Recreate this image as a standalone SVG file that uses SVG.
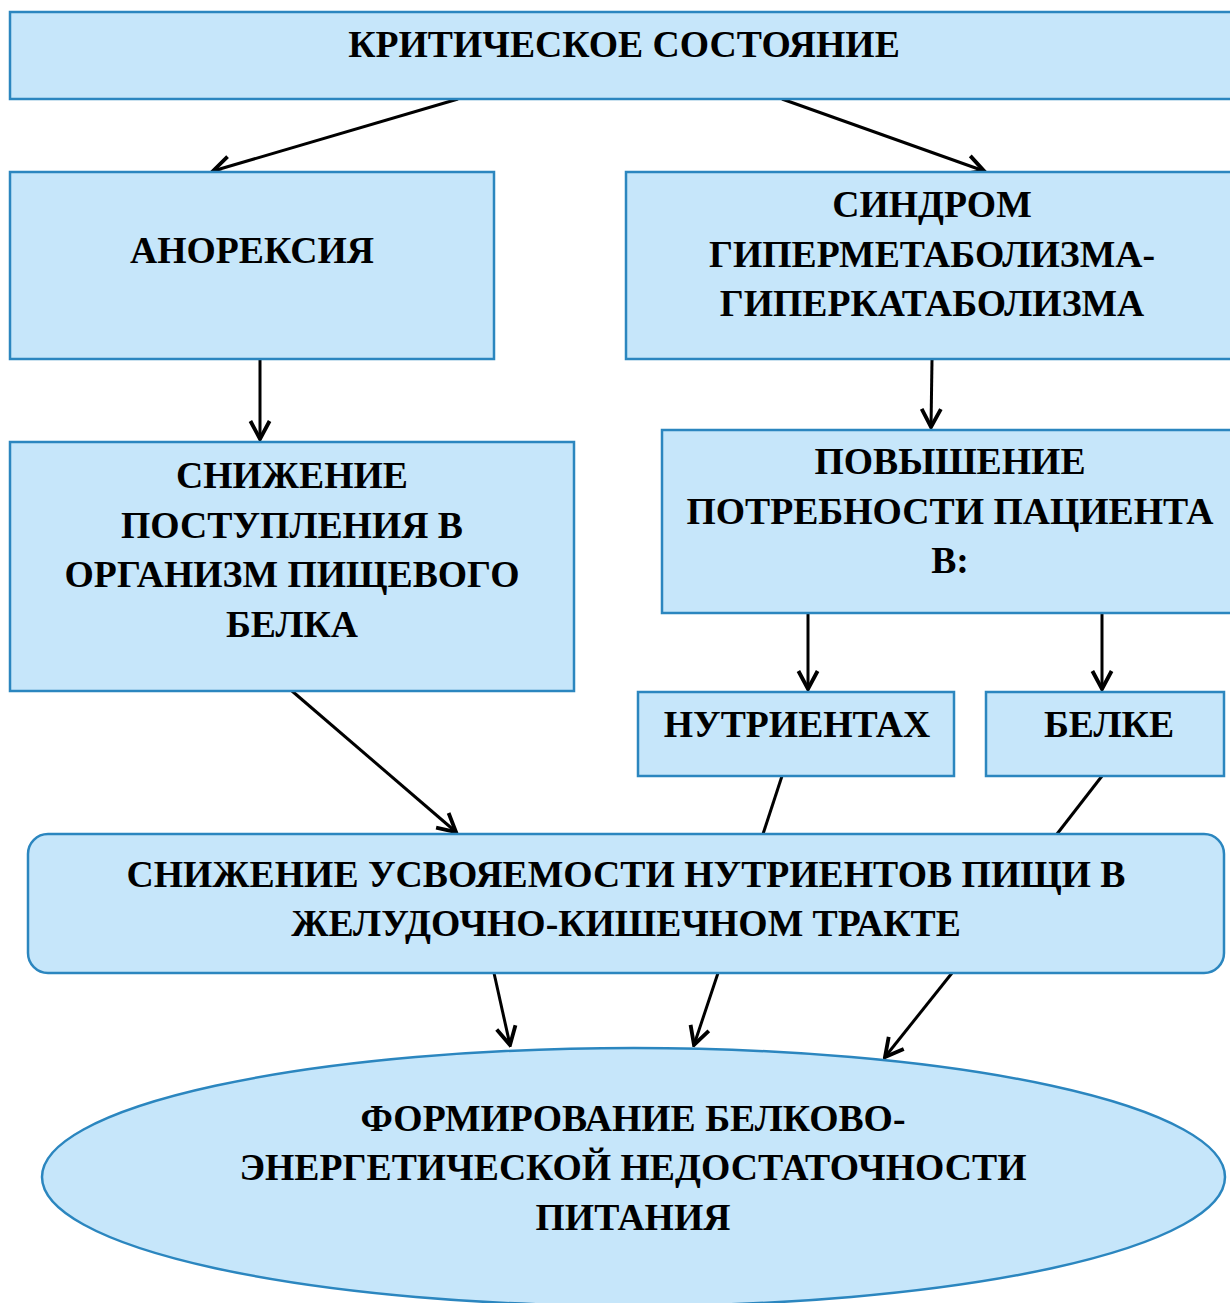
<svg xmlns="http://www.w3.org/2000/svg" width="1230" height="1303" viewBox="0 0 1230 1303">
<style>
.box{fill:#c6e6fa;stroke:#2b86bf;stroke-width:2.5}
.t{font-family:"Liberation Serif","Times New Roman",serif;font-weight:bold;font-size:37.7px;fill:#000;text-anchor:middle}
.c{stroke:#000;stroke-width:3;fill:none}
</style>
<defs>
<marker id="ah" markerUnits="userSpaceOnUse" markerWidth="24" markerHeight="24" viewBox="-18 -10 20 20" refX="0" refY="0" orient="auto">
<path d="M-15,-8 L0,0 L-15,8" fill="none" stroke="#000" stroke-width="3.2"/>
</marker>
</defs>
<rect width="1230" height="1303" fill="#fff"/>
<g id="connectors">
<line class="c" x1="458" y1="99" x2="213" y2="171" marker-end="url(#ah)"/>
<line class="c" x1="782" y1="99" x2="984" y2="171" marker-end="url(#ah)"/>
<line class="c" x1="260" y1="360" x2="260" y2="439" marker-end="url(#ah)"/>
<line class="c" x1="932" y1="360" x2="931" y2="427" marker-end="url(#ah)"/>
<line class="c" x1="292" y1="691" x2="456" y2="832" marker-end="url(#ah)"/>
<line class="c" x1="808" y1="613" x2="808" y2="689" marker-end="url(#ah)"/>
<line class="c" x1="1102" y1="613" x2="1102" y2="689" marker-end="url(#ah)"/>
<line class="c" x1="782" y1="776" x2="763" y2="834"/>
<line class="c" x1="1102" y1="776" x2="1057" y2="834"/>
<line class="c" x1="494" y1="973" x2="510" y2="1045" marker-end="url(#ah)"/>
<line class="c" x1="718" y1="973" x2="694" y2="1045" marker-end="url(#ah)"/>
<line class="c" x1="952" y1="973" x2="885" y2="1057" marker-end="url(#ah)"/>
</g>
<g id="critical">
<rect class="box" x="10" y="12" width="1240" height="87"/>
<text class="t" x="624" y="57">КРИТИЧЕСКОЕ СОСТОЯНИЕ</text>
</g>
<g id="anorexia">
<rect class="box" x="10" y="172" width="484" height="187"/>
<text class="t" x="252" y="263">АНОРЕКСИЯ</text>
</g>
<g id="syndrome">
<rect class="box" x="626" y="172" width="620" height="187"/>
<text class="t" x="932" y="217">СИНДРОМ</text>
<text class="t" x="932" y="267">ГИПЕРМЕТАБОЛИЗМА-</text>
<text class="t" x="932" y="316">ГИПЕРКАТАБОЛИЗМА</text>
</g>
<g id="decrease">
<rect class="box" x="10" y="442" width="564" height="249"/>
<text class="t" x="292" y="488">СНИЖЕНИЕ</text>
<text class="t" x="292" y="538">ПОСТУПЛЕНИЯ В</text>
<text class="t" x="292" y="587">ОРГАНИЗМ ПИЩЕВОГО</text>
<text class="t" x="292" y="637">БЕЛКА</text>
</g>
<g id="increase">
<rect class="box" x="662" y="430" width="584" height="183"/>
<text class="t" x="950" y="474">ПОВЫШЕНИЕ</text>
<text class="t" x="950" y="524">ПОТРЕБНОСТИ ПАЦИЕНТА</text>
<text class="t" x="950" y="573">В:</text>
</g>
<g id="nutrients">
<rect class="box" x="638" y="692" width="316" height="84"/>
<text class="t" x="797" y="737">НУТРИЕНТАХ</text>
</g>
<g id="protein">
<rect class="box" x="986" y="692" width="238" height="84"/>
<text class="t" x="1109" y="737">БЕЛКЕ</text>
</g>
<g id="absorption">
<rect class="box" x="28" y="834" width="1196" height="139" rx="20" ry="20"/>
<text class="t" x="626" y="887">СНИЖЕНИЕ УСВОЯЕМОСТИ НУТРИЕНТОВ ПИЩИ В</text>
<text class="t" x="626" y="936">ЖЕЛУДОЧНО-КИШЕЧНОМ ТРАКТЕ</text>
</g>
<g id="malnutrition">
<ellipse class="box" cx="633.5" cy="1177" rx="591.5" ry="129"/>
<text class="t" x="633" y="1131">ФОРМИРОВАНИЕ БЕЛКОВО-</text>
<text class="t" x="633" y="1180">ЭНЕРГЕТИЧЕСКОЙ НЕДОСТАТОЧНОСТИ</text>
<text class="t" x="633" y="1230">ПИТАНИЯ</text>
</g>
</svg>
